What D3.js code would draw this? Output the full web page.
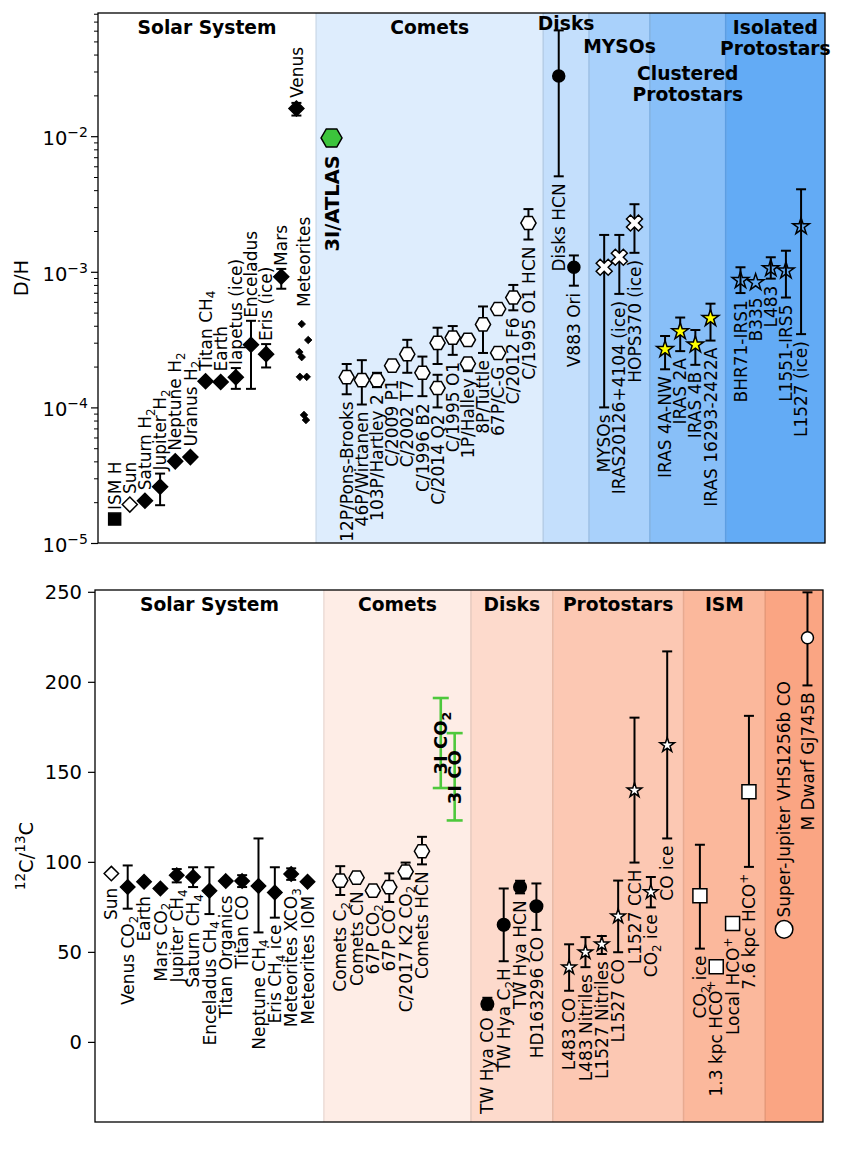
<!DOCTYPE html>
<html><head><meta charset="utf-8">
<script src="https://cdn.jsdelivr.net/npm/d3@7/dist/d3.min.js"></script>
<style>
html,body{margin:0;padding:0;background:#fff;}
text{font-family:"DejaVu Sans","Liberation Sans",sans-serif;}
</style></head><body>
<svg id="chart" width="850" height="1153" xmlns="http://www.w3.org/2000/svg"></svg>
<script>
// ================= DATA : D/H panel =================
const dhSolar = [
  {n:"ISM H", v:1.5e-5},
  {n:"Sun", v:1.92e-5},
  {n:"Saturn H_2", v:2.05e-5},
  {n:"Jupiter H_2", v:2.6e-5, lo:1.9e-5, hi:3.25e-5},
  {n:"Neptune H_2", v:4.0e-5},
  {n:"Uranus H_2", v:4.3e-5},
  {n:"Titan CH_4", v:1.56e-4},
  {n:"Earth", v:1.54e-4},
  {n:"Iapetus (ice)", v:1.67e-4, lo:1.37e-4, hi:1.95e-4},
  {n:"Enceladus", v:2.9e-4, lo:1.37e-4, hi:4.35e-4},
  {n:"Eris (ice)", v:2.47e-4, lo:1.97e-4, hi:2.93e-4},
  {n:"Mars", v:9.2e-4, lo:7.5e-4, hi:1.05e-3},
  {n:"Venus", v:1.6e-2, lo:1.42e-2, hi:1.76e-2}
];
const dhMeteorites = [4.12e-4, 3.14e-4, 2.56e-4, 2.35e-4, 1.68e-4, 1.68e-4, 8.8e-5, 8.07e-5];
const dhMeteoriteX = [13.45, 13.88, 13.29, 13.45, 13.33, 13.78, 13.60, 13.73];
const dhAtlas = [{n:"3I/ATLAS", v:9.7e-3}];
const dhComets = [
  {n:"12P/Pons-Brooks", v:1.67e-4, lo:1.25e-4, hi:2.09e-4},
  {n:"46P/Wirtanen", v:1.59e-4, lo:1.05e-4, hi:2.23e-4},
  {n:"103P/Hartley 2", v:1.59e-4, lo:1.41e-4, hi:1.8e-4},
  {n:"C/2009 P1", v:2.03e-4},
  {n:"C/2002 T7", v:2.47e-4, lo:1.8e-4, hi:3.15e-4},
  {n:"C/1996 B2", v:1.8e-4, lo:1.21e-4, hi:2.37e-4},
  {n:"C/2014 Q2", v:1.39e-4, lo:1.0e-4, hi:1.74e-4},
  {n:"C/1995 O1", v:3.27e-4, lo:2.44e-4, hi:3.98e-4},
  {n:"1P/Halley", v:2.1e-4, lo:1.85e-4, hi:2.3e-4},
  {n:"8P/Tuttle", v:4.09e-4, lo:2.52e-4, hi:5.55e-4},
  {n:"67P/C-G", v:2.52e-4, lo:2.3e-4, hi:2.75e-4},
  {n:"C/2012 F6", v:6.46e-4, lo:5.2e-4, hi:8.0e-4},
  {n:"C/1995 O1 HCN", v:2.29e-3, lo:1.73e-3, hi:2.9e-3}
];
const dhCometsExtra = [
  {of:"C/2014 Q2", v:2.99e-4, lo:2.09e-4, hi:3.87e-4},
  {of:"1P/Halley", v:3.15e-4},
  {of:"67P/C-G", v:5.32e-4}
];
const dhDisks = [
  {n:"Disks HCN", v:2.78e-2, lo:5.06e-3, hi:6.03e-2},
  {n:"V883 Ori", v:1.08e-3, lo:7.9e-4, hi:1.32e-3}
];
const dhMYSOs = [
  {n:"MYSOs", v:1.08e-3, lo:1.0e-4, hi:1.87e-3},
  {n:"IRAS20126+4104 (ice)", v:1.28e-3, lo:6.87e-4, hi:1.87e-3},
  {n:"HOPS370 (ice)", v:2.29e-3, lo:1.38e-3, hi:3.15e-3}
];
const dhClustered = [
  {n:"IRAS 4A-NW", v:2.68e-4, lo:1.91e-4, hi:3.36e-4},
  {n:"IRAS 2A", v:3.63e-4, lo:2.6e-4, hi:4.6e-4},
  {n:"IRAS 4B", v:2.9e-4, lo:2.06e-4, hi:3.72e-4},
  {n:"IRAS 16293-2422A", v:4.54e-4, lo:3.11e-4, hi:5.82e-4}
];
const dhIsolated = [
  {n:"BHR71-IRS1", v:8.65e-4, lo:6.97e-4, hi:1.08e-3},
  {n:"B335", v:8.35e-4},
  {n:"L483", v:1.06e-3, lo:8.9e-4, hi:1.28e-3},
  {n:"L1551-IRS5", v:1.02e-3, lo:6.46e-4, hi:1.43e-3},
  {n:"L1527 (ice)", v:2.16e-3, lo:3.47e-4, hi:4.06e-3}
];
const dhSections = ["Solar System", "Comets", "Disks", "MYSOs", "Clustered\nProtostars", "Isolated\nProtostars"];
const dhTicks = [1e-5, 1e-4, 1e-3, 1e-2];
const dhTickLabels = ["10^−^5", "10^−^4", "10^−^3", "10^−^2"];

// ================= DATA : 12C/13C panel =================
const ccSolar = [
  {n:"Sun", v:93.5},
  {n:"Venus CO_2", v:86, lo:74, hi:98},
  {n:"Earth", v:89},
  {n:"Mars CO_2", v:85.2},
  {n:"Jupiter CH_4", v:92.6, lo:88.6, hi:96},
  {n:"Saturn CH_4", v:91.6, lo:86, hi:97},
  {n:"Enceladus CH_4", v:84, lo:71, hi:97},
  {n:"Titan Organics", v:89.3},
  {n:"Titan CO", v:89.3, lo:86, hi:92.6},
  {n:"Neptune CH_4", v:86.6, lo:60.8, hi:113},
  {n:"Eris CH_4 ice", v:83, lo:69, hi:97},
  {n:"Meteorites XCO_3", v:93.2, lo:90, hi:96.4},
  {n:"Meteorites IOM", v:89}
];
const ccComets = [
  {n:"Comets C_2", v:89.6, lo:81.6, hi:97.6},
  {n:"Comets CN", v:91.2},
  {n:"67P CO_2", v:84},
  {n:"67P CO", v:86, lo:77.7, hi:93.6},
  {n:"C/2017 K2 CO_2", v:94.6, lo:90.6, hi:99.6},
  {n:"Comets HCN", v:105.9, lo:98.6, hi:113.9}
];
const ccAtlas = [
  {n:"3I CO_2", v:166, lo:141, hi:191},
  {n:"3I CO", v:147, lo:123, hi:171.5}
];
const ccDisks = [
  {n:"TW Hya CO", v:21, lo:18, hi:24.5},
  {n:"TW Hya C_2H", v:65, lo:44.8, hi:85.2},
  {n:"TW Hya HCN", v:86, lo:82.5, hi:89.5},
  {n:"HD163296 CO", v:75.3, lo:62.2, hi:88}
];
const ccProtostars = [
  {n:"L483 CO", v:41.4, lo:28.4, hi:54.2},
  {n:"L483 Nitriles", v:49.8, lo:41.5, hi:58.2},
  {n:"L1527 Nitriles", v:54.2, lo:48.8, hi:58.8},
  {n:"L1527 CO", v:69.7, lo:49.8, hi:89.6},
  {n:"L1527 CCH", v:139.7, lo:99.6, hi:180.1},
  {n:"CO_2 ice", v:83.2, lo:74.7, hi:91.6},
  {n:"CO ice", v:164.8, lo:113, hi:216.9}
];
const ccISM = [
  {n:"CO_2 ice", v:81.2, lo:51.8, hi:109.5},
  {n:"1.3 kpc HCO^+", v:41.8},
  {n:"Local HCO^+", v:65.7, lo:62.5, hi:68.5},
  {n:"7.6 kpc HCO^+", v:138.9, lo:97.2, hi:181.1}
];
const ccOther = [
  {n:"Super-Jupiter VHS1256b CO", v:62.5},
  {n:"M Dwarf GJ745B", v:224.5, lo:198, hi:249.7}
];
const ccSections = ["Solar System", "Comets", "Disks", "Protostars", "ISM", ""];
const ccTicks = [0, 50, 100, 150, 200, 250];

// ================= LAYOUT =================
const LT = {x0:98, x1:825, y0:13, y1:543};
const LB = {x0:95, x1:823, y0:590, y1:1122};
const dhBandEdges = [0, 14.4, 29.4, 32.42, 36.44, 41.44, 48];
const ccBandEdges = [0, 14, 23, 28, 36, 41, 44.53];
const dhColors = ["#ffffff", "#deedfd", "#c4dffc", "#a9d1fb", "#88bff8", "#63abf5"];
const ccColors = ["#ffffff", "#feede6", "#fddacc", "#fcc8b3", "#fbb89c", "#faa583"];
const dhTitleY = [[34], [34], [30], [53], [80, 101], [34, 55]];
const ccTitleY = 610.5;
const FS = 17, TFS = 18.7, TKS = 19.5;

const svg = d3.select("#chart");
const xT = d3.scaleLinear().domain([0, 48]).range([LT.x0, LT.x1]);
const yT = d3.scaleLog().domain([1e-5, 0.081]).range([LT.y1, LT.y0]);
const xB = d3.scaleLinear().domain([0, 44.53]).range([LB.x0, LB.x1]);
const yB = d3.scaleLinear().domain([-44.5, 251]).range([LB.y1, LB.y0]);

// ---- marker shapes
const dia = r => `M0,${-r}L${r},0L0,${r}L${-r},0Z`;
const sq = s => { const h = s/2; return `M${-h},${-h}H${h}V${h}H${-h}Z`; };
const hex = r => { const p = d3.range(6).map(i => [r*Math.cos(Math.PI/3*i), r*Math.sin(Math.PI/3*i)]); return "M" + p.map(q => q.map(v => v.toFixed(2)).join(",")).join("L") + "Z"; };
const star = R => { const r = R*0.381966; const p = d3.range(10).map(i => { const a = -Math.PI/2 + Math.PI/5*i, rr = i%2 ? r : R; return [rr*Math.cos(a), rr*Math.sin(a)]; }); return "M" + p.map(q => q.map(v => v.toFixed(2)).join(",")).join("L") + "Z"; };
const circ = r => `M${r},0A${r},${r} 0 1,1 ${-r},0A${r},${r} 0 1,1 ${r},0Z`;
const xmk = s => { const v = [[0,0.25],[0.25,0],[0.5,0.25],[0.75,0],[1,0.25],[0.75,0.5],[1,0.75],[0.75,1],[0.5,0.75],[0.25,1],[0,0.75],[0.25,0.5]]; return "M" + v.map(q => [((q[0]-0.5)*s).toFixed(2), ((q[1]-0.5)*s).toFixed(2)].join(",")).join("L") + "Z"; };

const MK = {
  ismSq: {d:sq(12), fill:"#000", ext:6},
  sunD: {d:dia(7.5), fill:"#fff", ext:7.5},
  blkD: {d:dia(7.5), fill:"#000", ext:7.5},
  metD: {d:dia(3.8), fill:"#000", ext:3.8},
  atlasH: {d:hex(10.5), fill:"#3cc43c", ext:9.1},
  cometH: {d:hex(7.6), fill:"#fff", ext:6.6},
  disk: {d:circ(6), fill:"#000", ext:6},
  myso: {d:xmk(16), fill:"#fff", ext:8},
  clus: {d:star(8.8), fill:"#ffff00", ext:8},
  iso: {d:star(8.8), fill:"none", ext:8},
  bSunD: {d:dia(7.2), fill:"#fff", ext:7.2},
  bBlkD: {d:dia(7.2), fill:"#000", ext:7.2},
  bHex: {d:hex(7.6), fill:"#fff", ext:6.6},
  bDisk: {d:circ(6.3), fill:"#000", ext:6.3},
  bStar: {d:star(7.6), fill:"#fff", ext:7},
  bSq: {d:sq(14), fill:"#fff", ext:7},
  bigC: {d:circ(8.8), fill:"#fff", ext:8.8},
  smC: {d:circ(6), fill:"#fff", ext:6}
};

// ---- rich text with sub/superscripts
function rich(t, str, fs, supScale) {
  const sc = supScale || 0.7;
  const parts = []; let buf = "";
  for (let i = 0; i < str.length; i++) {
    const c = str[i];
    if ((c === "_" || c === "^") && i + 1 < str.length) { if (buf) { parts.push([buf, 0]); buf = ""; } parts.push([str[i+1], c === "_" ? 1 : -1]); i++; }
    else buf += c;
  }
  if (buf) parts.push([buf, 0]);
  let cur = 0;
  parts.forEach(([s, k]) => {
    const off = k === 1 ? fs*0.22 : (k === -1 ? -fs*0.42 : 0);
    const ts = t.append("tspan").attr("dy", (off - cur).toFixed(2)).text(s);
    if (k) ts.attr("font-size", (fs*sc).toFixed(1));
    cur = off;
  });
}
function vlabel(g, x, y, str, anchor, fs, weight) {
  const t = g.append("text").attr("transform", `translate(${x.toFixed(2)},${y.toFixed(2)}) rotate(-90)`)
    .attr("text-anchor", anchor).attr("y", (fs*0.36).toFixed(2)).attr("font-size", fs)
    .attr("font-weight", weight || "normal").attr("fill", "#000");
  rich(t, str, fs);
}

// ---- build point lists
function group(arr, start, mk, pos, opts) {
  return arr.map((d, i) => Object.assign({}, d, {x: Array.isArray(start) ? start[i] : start + i, mk, pos}, opts || {}));
}
const topPts = [].concat(
  group(dhSolar.slice(0,1), 1.1, "ismSq", "above"),
  group(dhSolar.slice(1,2), 2.1, "sunD", "above"),
  group(dhSolar.slice(2), 3.1, "blkD", "above"),
  dhMeteorites.map((v, i) => ({v, x: dhMeteoriteX[i], mk:"metD", pos:"none"})),
  group(dhAtlas, 15.42, "atlasH", "below", {bold:true}),
  group(dhComets, 16.42, "cometH", "below"),
  dhCometsExtra.map(d => ({v:d.v, lo:d.lo, hi:d.hi, x: 16.42 + dhComets.findIndex(c => c.n === d.of), mk:"cometH", pos:"none"})),
  group(dhDisks, 30.42, "disk", "below"),
  group(dhMYSOs, 33.42, "myso", "below"),
  group(dhClustered, 37.44, "clus", "below"),
  group(dhIsolated, 42.42, "iso", "below")
);
const botPts = [].concat(
  group(ccSolar.slice(0,1), 1, "bSunD", "below"),
  group(ccSolar.slice(1), 2, "bBlkD", "below"),
  group(ccComets, 15, "bHex", "below"),
  group(ccAtlas, [21.15, 22], null, "center", {green:true}),
  group(ccDisks, 24, "bDisk", "below"),
  group(ccProtostars, 29, "bStar", "below"),
  group(ccISM, 37, "bSq", "below"),
  group(ccOther.slice(0,1), 42.15, "bigC", "above"),
  group(ccOther.slice(1), 43.58, "smC", "below")
);

// ---- clip paths
const defs = svg.append("defs");
defs.append("clipPath").attr("id", "clipT").append("rect").attr("x", LT.x0).attr("y", LT.y0).attr("width", LT.x1-LT.x0).attr("height", LT.y1-LT.y0);
defs.append("clipPath").attr("id", "clipB").append("rect").attr("x", LB.x0).attr("y", LB.y0).attr("width", LB.x1-LB.x0).attr("height", LB.y1-LB.y0);

function drawPanel(L, xs, ys, edges, colors, pts, clipId) {
  const g = svg.append("g").attr("clip-path", `url(#${clipId})`);
  for (let i = 0; i < colors.length; i++) {
    g.append("rect").attr("x", xs(edges[i])).attr("y", L.y0).attr("width", xs(edges[i+1]) - xs(edges[i])).attr("height", L.y1 - L.y0).attr("fill", colors[i]);
  }
  for (let i = 1; i < colors.length; i++) {
    const c = d3.color(colors[i]).darker(0.22);
    [edges[i], edges[i+1]].forEach(e => g.append("line").attr("x1", xs(e)).attr("x2", xs(e)).attr("y1", L.y0).attr("y2", L.y1).attr("stroke", c).attr("stroke-width", 1.4));
  }
  const eb = g.append("g");
  pts.filter(d => d.lo != null).forEach(d => {
    const X = xs(d.x), y1 = ys(d.lo), y2 = ys(d.hi);
    const col = d.green ? "#4ec83c" : "#000", cw = d.green ? 8 : 5, lw = d.green ? 2.6 : 2;
    eb.append("line").attr("x1", X).attr("x2", X).attr("y1", y1).attr("y2", y2).attr("stroke", col).attr("stroke-width", lw);
    [y1, y2].forEach(yy => eb.append("line").attr("x1", X-cw).attr("x2", X+cw).attr("y1", yy).attr("y2", yy).attr("stroke", col).attr("stroke-width", lw));
  });
  const mg = g.append("g");
  pts.filter(d => d.mk).forEach(d => {
    const m = MK[d.mk];
    mg.append("path").attr("d", m.d).attr("transform", `translate(${xs(d.x).toFixed(2)},${ys(d.v).toFixed(2)})`)
      .attr("fill", m.fill).attr("stroke", "#000").attr("stroke-width", d.mk === "metD" ? 0.8 : 1.5).attr("stroke-linejoin", "miter");
  });
  const lg = g.append("g");
  pts.filter(d => d.n && d.pos !== "none").forEach(d => {
    const same = pts.filter(p => Math.abs(p.x - d.x) < 1e-6);
    const X = xs(d.x);
    if (d.pos === "center") { vlabel(lg, X, ys(d.v), d.n, "middle", 18, "bold"); return; }
    if (d.pos === "above") {
      const top = d3.min(same, p => Math.min(ys(p.v) - (p.mk ? MK[p.mk].ext : 0), p.hi != null ? ys(p.hi) : Infinity));
      vlabel(lg, X, top - 3, d.n, "start", FS);
    } else {
      const bot = d3.max(same, p => Math.max(ys(p.v) + (p.mk ? MK[p.mk].ext : 0), p.lo != null ? ys(p.lo) : -Infinity));
      if (d.bold) vlabel(lg, X, bot + 8, d.n, "end", 19.5, "bold");
      else vlabel(lg, X, bot + 7, d.n, "end", FS);
    }
  });
  return lg;
}

const lgT = drawPanel(LT, xT, yT, dhBandEdges, dhColors, topPts, "clipT");
vlabel(lgT, xT(d3.mean(dhMeteoriteX)), yT(d3.max(dhMeteorites)) - 17, "Meteorites", "start", FS);
drawPanel(LB, xB, yB, ccBandEdges, ccColors, botPts, "clipB");

// ---- section titles
dhSections.forEach((s, i) => {
  const cx = (xT(dhBandEdges[i]) + xT(dhBandEdges[i+1])) / 2;
  s.split("\n").forEach((line, j) => svg.append("text").attr("x", cx).attr("y", dhTitleY[i][j]).attr("text-anchor", "middle")
    .attr("font-size", TFS).attr("font-weight", "bold").text(line));
});
ccSections.forEach((s, i) => {
  if (!s) return;
  const cx = (xB(ccBandEdges[i]) + xB(ccBandEdges[i+1])) / 2;
  svg.append("text").attr("x", cx).attr("y", ccTitleY).attr("text-anchor", "middle").attr("font-size", TFS).attr("font-weight", "bold").text(s);
});

// ---- axes
const minors = [];
for (let e = -5; e <= -2; e++) for (let m = 2; m <= 9; m++) { const v = m * Math.pow(10, e); if (v <= 0.081) minors.push(v); }
const axT = svg.append("g").attr("transform", `translate(${LT.x0},0)`).call(d3.axisLeft(yT).tickValues(dhTicks).tickSize(7).tickFormat(() => ""));
axT.select(".domain").remove();
axT.selectAll("line").attr("stroke-width", 1.2);
const axTm = svg.append("g").attr("transform", `translate(${LT.x0},0)`).call(d3.axisLeft(yT).tickValues(minors).tickSize(4).tickFormat(() => ""));
axTm.select(".domain").remove();
axTm.selectAll("line").attr("stroke-width", 1);
dhTicks.forEach((v, i) => {
  const t = svg.append("text").attr("x", LT.x0 - 10).attr("y", yT(v) + 9).attr("text-anchor", "end").attr("font-size", TKS);
  rich(t, dhTickLabels[i], TKS, 0.72);
});
const axB = svg.append("g").attr("transform", `translate(${LB.x0},0)`).call(d3.axisLeft(yB).tickValues(ccTicks).tickSize(7).tickPadding(6));
axB.select(".domain").remove();
axB.selectAll("line").attr("stroke-width", 1.2);
axB.selectAll("text").attr("font-size", TKS).attr("font-family", "DejaVu Sans").attr("fill", "#000");

[LT, LB].forEach(L => svg.append("rect").attr("x", L.x0).attr("y", L.y0).attr("width", L.x1 - L.x0).attr("height", L.y1 - L.y0)
  .attr("fill", "none").attr("stroke", "#000").attr("stroke-width", 1.3));

vlabel(svg, 21, (LT.y0 + LT.y1) / 2, "D/H", "middle", TKS);
vlabel(svg, 26, (LB.y0 + LB.y1) / 2, "^1^2C/^1^3C", "middle", TKS);
</script></body></html>
